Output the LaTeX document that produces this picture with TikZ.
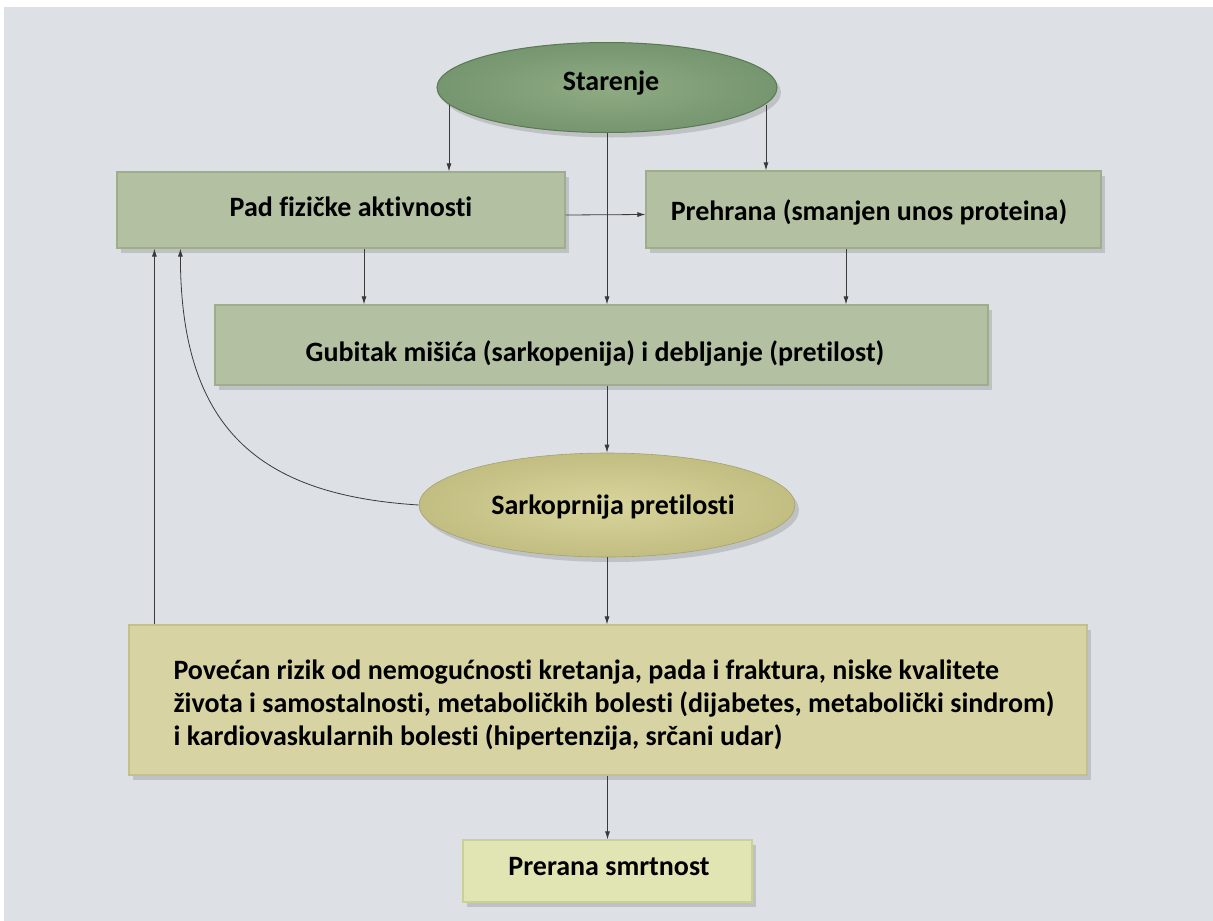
\documentclass[tikz,border=0pt]{standalone}
\usepackage{fontspec}
\setmainfont{Carlito}[Ligatures=NoCommon]
\usetikzlibrary{shadows,arrows.meta,calc,shapes.geometric}
\definecolor{bgc}{HTML}{DDE1E6}
\definecolor{greenbox}{HTML}{B3C0A1}
\definecolor{greenedge}{HTML}{9EAD8C}
\definecolor{greenin}{HTML}{8FAB83}
\definecolor{greenout}{HTML}{769670}
\definecolor{greenrim}{HTML}{5A7852}
\definecolor{olivein}{HTML}{D8D49C}
\definecolor{oliveout}{HTML}{C2BE82}
\definecolor{tanbox}{HTML}{D7D3A2}
\definecolor{tanedge}{HTML}{C4C08C}
\definecolor{palebox}{HTML}{E1E5B3}
\definecolor{paleedge}{HTML}{CBCF9B}
\definecolor{linec}{HTML}{3A3A3A}
\begin{document}
\begin{tikzpicture}[x=1pt,y=-1pt,
  every node/.style={font=\fontsize{28}{33}\selectfont\bfseries, text=black},
  shad/.style={drop shadow={shadow xshift=4pt,shadow yshift=-5pt,opacity=0.25,fill=black!60}},
  gbox/.style={rectangle, shad, fill=greenbox, draw=greenedge, line width=1.2pt, inner sep=0pt},
  tbox/.style={rectangle, shad, fill=tanbox, draw=tanedge, line width=1.2pt, inner sep=0pt},
  pbox/.style={rectangle, shad, fill=palebox, draw=paleedge, line width=1.2pt, inner sep=0pt},
  gell/.style={ellipse, shad, inner color=greenin, outer color=greenout, draw=greenrim, line width=1pt, inner sep=0pt},
  oell/.style={ellipse, shad, inner color=olivein, outer color=oliveout, draw=oliveout!85!black, line width=0.6pt, inner sep=0pt},
  arr/.style={draw=linec, line width=0.8pt, -{Latex[length=8pt,width=5pt]}}
]
\fill[white] (0,0) rectangle (1213,921);
\fill[bgc] (4,7) rectangle (1213,921);
\useasboundingbox (0,0) rectangle (1213,921);

\node[gell, minimum width=340pt, minimum height=90pt] (star) at (607,87.5) {};
\node at (611,83) {Starenje};

\node[gbox, minimum width=448pt, minimum height=76pt] (pad) at (341,210) {};
\node at (351,207) {Pad fizičke aktivnosti};

\node[gbox, minimum width=455pt, minimum height=77pt] (preh) at (873.5,209.5) {};
\node at (869,212) {Prehrana (smanjen unos proteina)};

\node[gbox, minimum width=773pt, minimum height=80pt] (gub) at (601.5,345) {};
\node at (595,353) {Gubitak mišića (sarkopenija) i debljanje (pretilost)};

\node[oell, minimum width=376pt, minimum height=104pt] (sark) at (607,505) {};
\node at (613,507) {Sarkoprnija pretilosti};

\node[tbox, minimum width=958pt, minimum height=150pt] (big) at (608,700) {};
\node[anchor=west, align=left] at (170,705) {Povećan rizik od nemogućnosti kretanja, pada i fraktura, niske kvalitete\\života i samostalnosti, metaboličkih bolesti (dijabetes, metabolički sindrom)\\i kardiovaskularnih bolesti (hipertenzija, srčani udar)};

\node[pbox, minimum width=289pt, minimum height=62pt] (prer) at (607.5,871) {};
\node at (609,867) {Prerana smrtnost};

% connectors
\draw[arr] ([shift={(-158,17)}]star.center) -- ([xshift=108pt]pad.north);
\draw[arr] ([shift={(159,17)}]star.center) -- ([xshift=-107.5pt]preh.north);
\draw[arr] (star.south) -- (star.south |- gub.north);
\draw[arr] ([yshift=-5pt]pad.east) -- ([yshift=-5pt]preh.west);
\draw[arr] ([xshift=23pt]pad.south) -- ([xshift=23pt]pad.south |- gub.north);
\draw[arr] ([xshift=-27.5pt]preh.south) -- ([xshift=-27.5pt]preh.south |- gub.north);
\draw[arr] (sark.north |- gub.south) -- (sark.north);
\draw[arr] (sark.south) -- (sark.south |- big.north);
\draw[arr] (prer.north |- big.south) -- (prer.north);
\draw[arr] ([xshift=26pt]big.north west) -- ([xshift=26pt]big.north west |- pad.south);
\draw[arr] (sark.west) .. controls +(-160,-10) and +(0,180) .. ([xshift=64pt]pad.south west);
\end{tikzpicture}
\end{document}
